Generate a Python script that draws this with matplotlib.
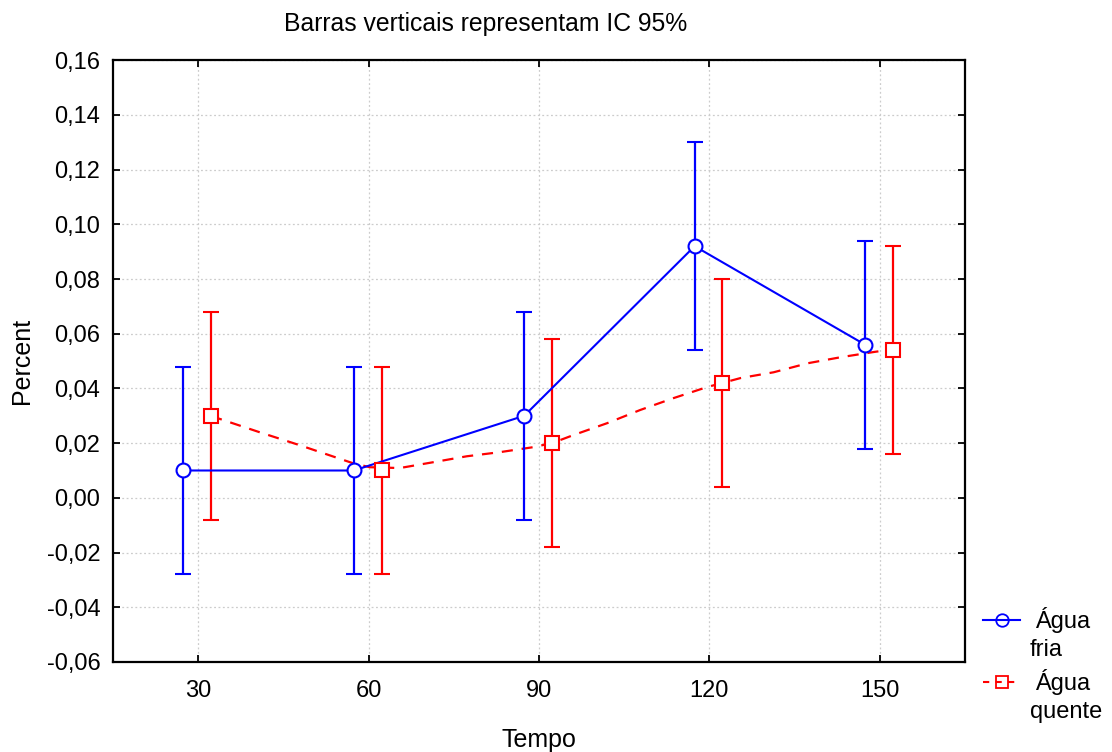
import matplotlib.pyplot as plt
import numpy as np
from matplotlib.lines import Line2D

plt.rcParams['font.family'] = ['Liberation Sans', 'DejaVu Sans']

tempo = [30, 60, 90, 120, 150]
fria = [0.010, 0.010, 0.030, 0.092, 0.056]
fria_ic = [0.038, 0.038, 0.038, 0.038, 0.038]
quente = [0.030, 0.010, 0.020, 0.042, 0.054]
quente_ic = [0.038, 0.038, 0.038, 0.038, 0.038]

# curva suavizada para a agua quente
ajuste_x = [32.3, 40.8, 47.8, 57.2, 60.2, 65.5, 71.3, 77.3, 83.1, 88.9, 92.3,
            96.0, 102.0, 107.8, 113.6, 119.6, 125.5, 131.3, 137.3, 143.1, 148.9, 152.3]
ajuste_y = [0.0299, 0.0240, 0.0193, 0.0127, 0.0112, 0.0109, 0.0130, 0.0152, 0.0167,
            0.0185, 0.0200, 0.0229, 0.0273, 0.0321, 0.0364, 0.0405, 0.0438, 0.0459,
            0.0492, 0.0514, 0.0533, 0.0543]

yticks = [-0.06, -0.04, -0.02, 0.0, 0.02, 0.04, 0.06, 0.08, 0.10, 0.12, 0.14, 0.16]

W, H = 1112, 752
fig = plt.figure(figsize=(W / 100, H / 100), dpi=100)
ax = fig.add_axes([0.1016, 0.1197, 0.7662, 0.8003])

xf = np.array(tempo) - 2.6
xq = np.array(tempo) + 2.3

ax.errorbar(xf, fria, yerr=fria_ic, color='#0000ff', lw=1.5, marker='o', ms=10,
            mfc='white', mec='#0000ff', mew=1.5, capsize=6, elinewidth=1.6, zorder=3)
ax.errorbar(xq, quente, yerr=quente_ic, color='#ff0000', lw=0, marker='s', ms=10,
            mfc='white', mec='#ff0000', mew=1.5, capsize=6, elinewidth=1.6, zorder=3)
ax.plot(ajuste_x, ajuste_y, color='#ff0000', lw=1.6, ls=(0, (5, 4)), zorder=2)

ax.set_xlim(15, 165)
ax.set_ylim(-0.06, 0.16)
ax.set_xticks(tempo)
ax.set_yticks(yticks)
ax.set_yticklabels([f"{v:.2f}".replace('.', ',') for v in yticks])
ax.tick_params(direction='in', length=5, width=1.3, labelsize=17, top=True, right=True)
ax.tick_params(axis='x', pad=13)
ax.tick_params(axis='y', pad=9)
ax.grid(True, color='#cccccc', ls=(0, (1.5, 2)), lw=0.9)
for s in ax.spines.values():
    s.set_linewidth(1.6)

ax.set_xlabel('Tempo', fontsize=18, labelpad=19)
ax.set_ylabel('Percent', fontsize=18, labelpad=9)
fig.text(486 / W, 1 - 24 / H, 'Barras verticais representam IC 95%',
         ha='center', va='center', fontsize=17.8)

# legenda feita a mao: simbolo alinhado com a primeira linha do texto
legenda = [('Água', 'fria', '#0000ff', 'o', '-', 620),
           ('Água', 'quente', '#ff0000', 's', (0, (3, 3)), 682)]
for l1, l2, cor, mk, est, yp in legenda:
    yy = 1 - yp / H
    fig.add_artist(Line2D([983 / W, 1020 / W], [yy, yy], color=cor, lw=1.5, ls=est,
                          transform=fig.transFigure))
    fig.add_artist(Line2D([1002 / W], [yy], color=cor, marker=mk, ms=9, mfc='none',
                          mew=1.3, transform=fig.transFigure))
    fig.text(1035 / W, yy, l1, ha='left', va='center', fontsize=17)
    fig.text(1030 / W, yy - 30 / H, l2, ha='left', va='center', fontsize=17)

fig.savefig('out.png', dpi=100)
